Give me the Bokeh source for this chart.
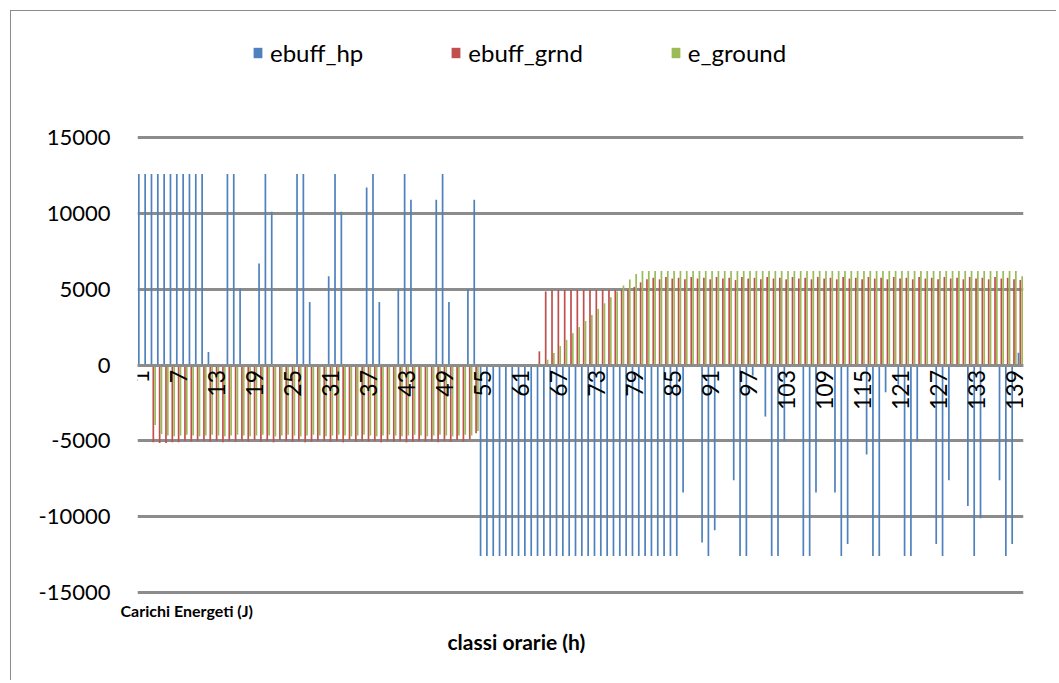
import math
from bokeh.plotting import figure
from bokeh.models import (Range1d, FixedTicker, LinearAxis, Legend, LegendItem,
                          Title, ColumnDataSource, CustomJSTickFormatter)
from bokeh.transform import dodge
from bokeh.embed import file_html
from bokeh.resources import INLINE

# ---------------- data ----------------
categories = list(range(1, 141))
x_tick_values = [1, 7, 13, 19, 25, 31, 37, 43, 49, 55, 61, 67, 73, 79, 85, 91,
                 97, 103, 109, 115, 121, 127, 133, 139]
y_tick_values = [-15000, -10000, -5000, 0, 5000, 10000, 15000]
series_names = ["ebuff_hp", "ebuff_grnd", "e_ground"]

ebuff_hp = [
    12600, 12600, 12600, 12600, 12600, 12600, 12600, 12600, 12600, 12600,  # 1-10
    12600, 850, 0, 0, 12600, 12600, 5050, 0, 0, 6700,                      # 11-20
    12600, 10100, 0, 0, 0, 12600, 12600, 4150, 0, 0,                       # 21-30
    5850, 12600, 10100, 0, 0, 0, 11700, 12600, 4150, 0,                    # 31-40
    0, 5000, 12600, 10900, 0, 0, 0, 10900, 12600, 4150,                    # 41-50
    0, 0, 5000, 10900, -12600, -12600, -12600, -12600, -12600, -12600,     # 51-60
    -12600, -12600, -12600, -12600, -12600, -12600, -12600, -12600, -12600, -12600,  # 61-70
    -12600, -12600, -12600, -12600, -12600, -12600, -12600, -12600, -12600, -12600,  # 71-80
    -12600, -12600, -12600, -12600, -12600, -12600, -8400, 0, 0, -11700,   # 81-90
    -12600, -10900, 0, 0, -7600, -12600, -12600, -700, 0, -3400,           # 91-100
    -12600, -12600, -5000, 0, 0, -12600, -12600, -8400, 0, 0,              # 101-110
    -8400, -12600, -11800, 0, 0, -5900, -12600, -12600, -1800, 0,          # 111-120
    -1300, -12600, -12600, -5000, 0, 0, -11800, -12600, -7600, 0,          # 121-130
    0, -9300, -12600, -10100, 0, 0, -7600, -12600, -11800, 800,            # 131-140
]

ebuff_grnd = [
    0, 0, -5100, -5150, -5150, -5100, -5100, -5000, -5050, -5000,          # 1-10
    -5000, -5050, -5000, -5100, -5000, -5050, -5000, -5050, -4950, -5050,  # 11-20
    -5000, -5100, -4950, -5000, -5050, -5000, -5100, -5050, -5000, -5000,  # 21-30
    -5050, -5000, -5100, -4950, -5050, -5000, -5050, -5000, -5100, -5000,  # 31-40
    -5050, -5000, -5100, -5050, -5000, -5050, -5000, -5100, -5000, -5050,  # 41-50
    -4950, -5050, -4900, -4500, 0, 0, 0, 0, 0, 0,                          # 51-60
    0, 0, 0, 900, 4850, 4950, 4950, 4950, 4950, 4950,                      # 61-70
    4950, 4950, 4950, 4950, 4950, 4950, 4950, 4950, 5150, 5450,            # 71-80
    5650, 5750, 5650, 5800, 5700, 5750, 5650, 5800, 5700, 5750,            # 81-90
    5650, 5800, 5700, 5750, 5600, 5800, 5700, 5750, 5650, 5800,            # 91-100
    5700, 5750, 5650, 5800, 5700, 5750, 5650, 5800, 5700, 5750,            # 101-110
    5650, 5800, 5700, 5750, 5650, 5800, 5700, 5750, 5650, 5800,            # 111-120
    5700, 5750, 5650, 5800, 5700, 5750, 5650, 5800, 5700, 5750,            # 121-130
    5650, 5800, 5700, 5750, 5650, 5800, 5700, 5750, 5650, 5600,            # 131-140
]

e_ground = [
    0, 0, -3950, -4550, -4650, -4700, -4650, -4600, -4650, -4700,          # 1-10
    -4650, -4600, -4650, -4700, -4650, -4600, -4650, -4700, -4650, -4600,  # 11-20
    -4650, -4700, -4650, -4600, -4650, -4700, -4650, -4600, -4650, -4700,  # 21-30
    -4650, -4600, -4650, -4700, -4650, -4600, -4650, -4700, -4650, -4600,  # 31-40
    -4650, -4700, -4650, -4600, -4650, -4700, -4650, -4600, -4650, -4700,  # 41-50
    -4650, -4600, -4650, -4350, 0, 0, 0, 0, 0, 0,                          # 51-60
    0, 0, 0, 0, 350, 790, 1250, 1660, 2100, 2500,                          # 61-70
    2900, 3300, 3700, 4070, 4470, 4850, 5240, 5640, 6000, 6200,            # 71-80
    6200, 6200, 6200, 6200, 6200, 6200, 6200, 6200, 6200, 6200,            # 81-90
    6200, 6200, 6200, 6200, 6200, 6200, 6200, 6200, 6200, 6200,            # 91-100
    6200, 6200, 6200, 6200, 6200, 6200, 6200, 6200, 6200, 6200,            # 101-110
    6200, 6200, 6200, 6200, 6200, 6200, 6200, 6200, 6200, 6200,            # 111-120
    6200, 6200, 6200, 6200, 6200, 6200, 6200, 6200, 6200, 6200,            # 121-130
    6200, 6200, 6200, 6200, 6200, 6200, 6200, 6200, 6200, 5850,            # 131-140
]

assert len(ebuff_hp) == len(ebuff_grnd) == len(e_ground) == len(categories)

# ---------------- figure ----------------
FONT = "Lato"
GRID = "#8c8c8c"

source = ColumnDataSource(dict(x=categories, hp=ebuff_hp, grnd=ebuff_grnd, gr=e_ground))

# The frame reaches up to the canvas top so that the legend (drawn inside the
# frame) is not clipped; the value axis keeps 30000 units over 455 px.
p = figure(width=1046, height=670,
           x_range=Range1d(0.5, len(categories) + 0.5),
           y_range=Range1d(-15132, 23308),
           output_backend="svg", toolbar_location=None, x_axis_location=None,
           min_border_left=126, min_border_right=34,
           min_border_top=0, min_border_bottom=87)
p.outline_line_color = None
p.background_fill_color = "white"
p.border_fill_color = "white"
p.styles = {"border-left": "1px solid #8c8c8c", "border-top": "1px solid #8c8c8c",
            "margin-left": "10px", "margin-top": "10px"}

colors = ["#4F81BD", "#C0504D", "#9BBB59"]
cols = ["hp", "grnd", "gr"]
offsets = [-0.29, 0.0, 0.29]
renderers = []
for col, off, c in zip(cols, offsets, colors):
    r = p.vbar(x=dodge("x", off, range=p.x_range), top=col, bottom=0, width=0.27,
               source=source, fill_color=c, line_color=None)
    renderers.append(r)

# y axis + grid
p.yaxis.ticker = FixedTicker(ticks=y_tick_values)
p.yaxis.formatter = CustomJSTickFormatter(code="return tick.toFixed(0);")
p.yaxis.axis_line_color = None
p.yaxis.major_tick_line_color = None
p.yaxis.major_tick_out = 0
p.yaxis.minor_tick_line_color = None
p.yaxis.major_label_standoff = 27
p.yaxis.major_label_text_font = FONT
p.yaxis.major_label_text_font_size = "22px"
p.yaxis.major_label_text_color = "black"
p.ygrid.ticker = FixedTicker(ticks=y_tick_values)
p.ygrid.grid_line_color = GRID
p.ygrid.grid_line_width = 3
p.xgrid.visible = False

# category axis crossing at zero
xaxis = LinearAxis(fixed_location=0, ticker=FixedTicker(ticks=x_tick_values),
                   major_label_orientation=math.pi / 2,
                   axis_line_color=GRID, axis_line_width=3,
                   major_tick_line_color=None, minor_tick_line_color=None,
                   major_tick_out=0, major_label_standoff=5,
                   major_label_text_font=FONT, major_label_text_font_size="23px",
                   major_label_text_color="black")
p.add_layout(xaxis, "below")

# axis titles (below the plot area)
t1 = Title(text="Carichi Energeti  (J)", align="left", offset=-17, standoff=8,
           text_font=FONT, text_font_style="bold", text_font_size="16px",
           text_color="black")
t2 = Title(text="classi  orarie (h)", align="left", offset=310, standoff=7,
           text_font=FONT, text_font_style="bold", text_font_size="21px",
           text_color="black")
p.add_layout(t1, "below")
p.add_layout(t2, "below")

# legend (inside the frame, above the 15000 line)
legend = Legend(items=[LegendItem(label=n, renderers=[r]) for n, r in zip(series_names, renderers)],
                orientation="horizontal", location=(115, 527),
                glyph_width=11, glyph_height=13, label_standoff=7, spacing=87,
                label_height=24, padding=0, margin=0,
                border_line_color=None, background_fill_alpha=0,
                label_text_font=FONT, label_text_font_size="24px",
                label_text_color="black")
p.add_layout(legend, "center")

open("out.html", "w").write(file_html(p, INLINE))
